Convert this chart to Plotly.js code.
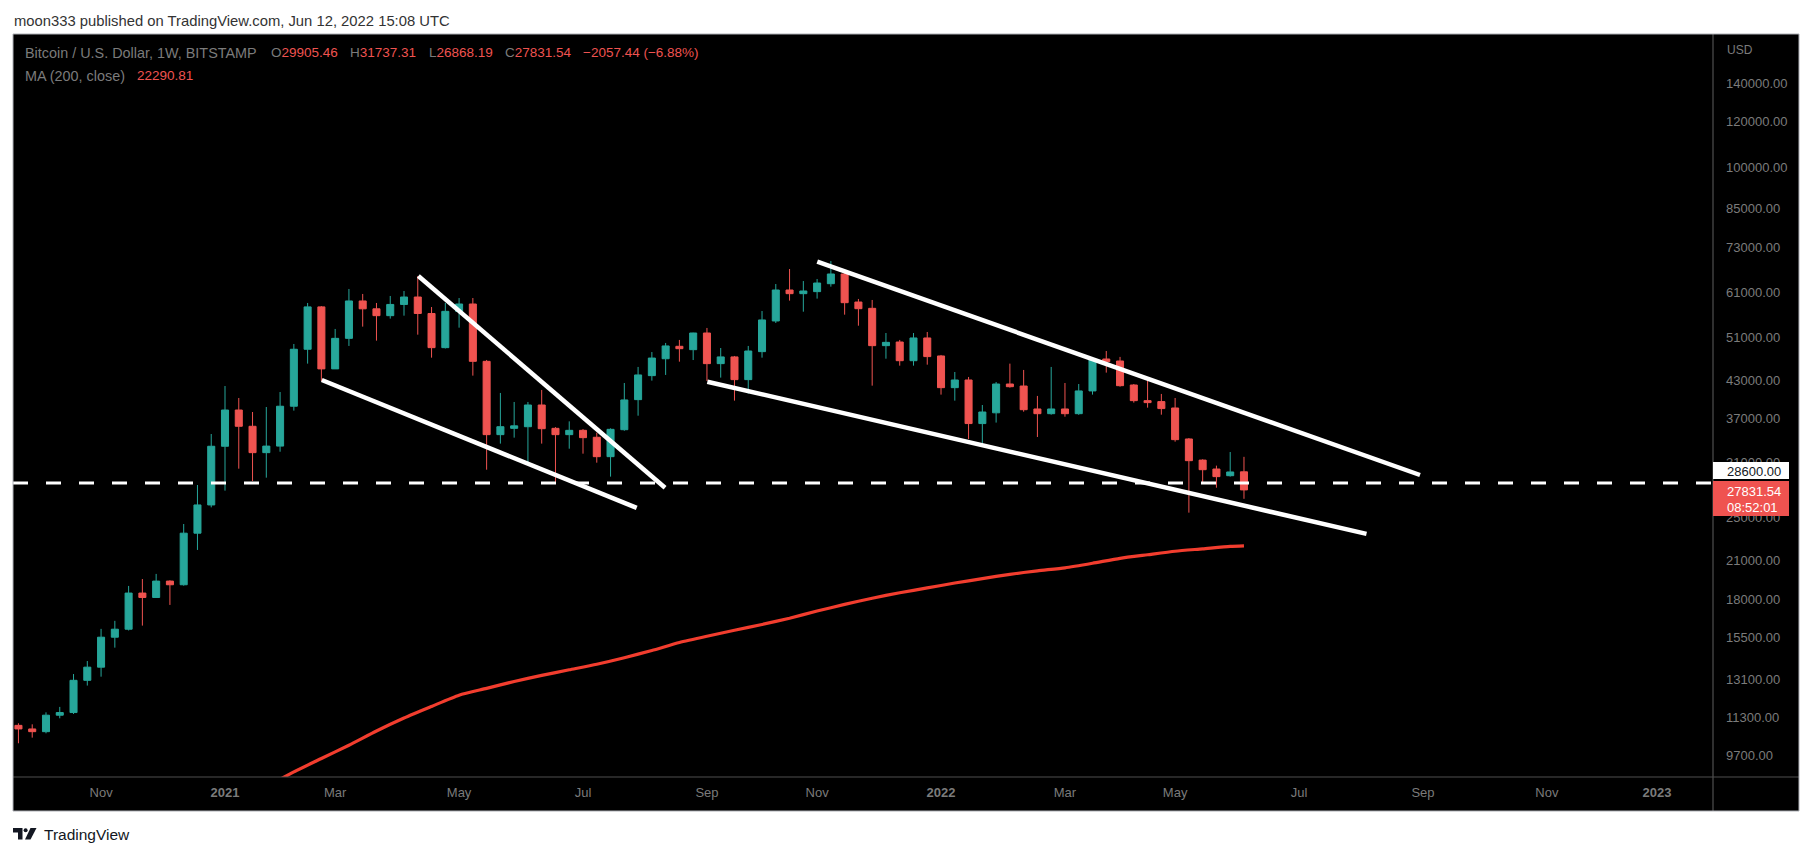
<!DOCTYPE html>
<html>
<head>
<meta charset="utf-8">
<script src="https://cdn.plot.ly/plotly-3.0.1.min.js"></script>
<style>
  html, body { margin: 0; padding: 0; background: #ffffff; }
  #chart { width: 1813px; height: 856px; }
</style>
</head>
<body>
<div id="chart"></div>
<script>
// ---------- DATA ----------
const weekDates = [
  '2020-09-21','2020-09-28','2020-10-05','2020-10-12','2020-10-19','2020-10-26',
  '2020-11-02','2020-11-09','2020-11-16','2020-11-23','2020-11-30','2020-12-07',
  '2020-12-14','2020-12-21','2020-12-28','2021-01-04','2021-01-11','2021-01-18',
  '2021-01-25','2021-02-01','2021-02-08','2021-02-15','2021-02-22','2021-03-01',
  '2021-03-08','2021-03-15','2021-03-22','2021-03-29','2021-04-05','2021-04-12',
  '2021-04-19','2021-04-26','2021-05-03','2021-05-10','2021-05-17','2021-05-24',
  '2021-05-31','2021-06-07','2021-06-14','2021-06-21','2021-06-28','2021-07-05',
  '2021-07-12','2021-07-19','2021-07-26','2021-08-02','2021-08-09','2021-08-16',
  '2021-08-23','2021-08-30','2021-09-06','2021-09-13','2021-09-20','2021-09-27',
  '2021-10-04','2021-10-11','2021-10-18','2021-10-25','2021-11-01','2021-11-08',
  '2021-11-15','2021-11-22','2021-11-29','2021-12-06','2021-12-13','2021-12-20',
  '2021-12-27','2022-01-03','2022-01-10','2022-01-17','2022-01-24','2022-01-31',
  '2022-02-07','2022-02-14','2022-02-21','2022-02-28','2022-03-07','2022-03-14',
  '2022-03-21','2022-03-28','2022-04-04','2022-04-11','2022-04-18','2022-04-25',
  '2022-05-02','2022-05-09','2022-05-16','2022-05-23','2022-05-30','2022-06-06'
];
const openPrices = [
  10930,10775,10660,11380,11500,13070,13770,15510,16010,18480,18160,19380,
  19100,23440,26220,33100,38220,35830,32270,33120,38800,48650,57560,45000,
  50800,58930,57120,55590,58120,59860,56070,48960,56550,58220,46370,34660,
  35540,35770,38990,35540,34660,35260,34300,31760,35350,39830,43810,46850,
  49220,48570,51890,45950,47190,43120,48190,54430,61550,60660,61150,63110,
  65590,58680,57230,49350,50070,46490,50880,47370,41770,43060,36220,37800,
  42380,42040,38380,37670,38380,37670,41230,46800,46430,42210,39670,39520,
  38530,34070,31330,30240,29450,29905.46
];
const highPrices = [
  11020,10975,11510,11760,13400,14110,16030,16550,19010,19540,19940,19440,
  24310,28380,34750,42040,40090,37920,38680,41050,49680,58460,57750,52730,
  61800,60590,58460,60110,61310,65070,57530,58460,59620,59620,46620,40900,
  39460,39460,41390,35710,36540,35430,34920,35540,42550,45350,48110,49880,
  50480,51950,52940,48890,47370,49290,56620,63030,66900,63780,64300,69070,
  66380,59400,59160,51890,50480,51890,52100,47560,44450,43580,38990,42720,
  45950,44810,40420,45350,42550,42380,46990,48310,47190,42380,43060,40740,
  40090,34200,31430,30650,32350,31737.31
];
const lowPrices = [
  10180,10410,10590,11240,11435,12800,13260,14880,15930,16240,18130,17630,
  19030,21930,25970,27750,30280,28830,29220,32390,38130,45950,42900,44990,
  49290,53220,50340,54940,55590,51550,47050,48800,53000,43810,30160,33450,
  34250,31050,33450,28690,32780,32140,31010,29340,35200,37370,42950,43930,
  46310,46610,42900,43470,39670,40790,47050,54000,59010,56470,59480,62370,
  55810,53420,42100,46860,45580,45580,45760,40630,39670,34070,33050,36360,
  41770,37970,34340,37520,37220,37500,40630,44340,41930,39360,38580,37520,
  33710,25430,28640,28080,29340,26868.19
];
const closePrices = [
  10775,10660,11380,11500,13070,13770,15510,16010,18480,18160,19380,19100,
  23440,26220,33100,38220,35830,32270,33120,38800,48650,57560,45000,50800,
  58930,57120,55590,58120,59860,56070,48960,56550,58220,46370,34660,35770,
  35890,38990,35490,34660,35260,34250,31760,35400,39780,43930,46980,49290,
  48760,51890,45950,47190,43120,48310,54650,61550,60660,61310,63280,65590,
  58530,57150,49350,50000,46490,50880,47250,41770,43060,36220,37920,42380,
  41930,38270,37670,38380,37670,41230,46800,46310,42100,39670,39360,38440,
  33980,31260,30160,29340,29888.98,27831.54
];

// 200-week moving average, sampled along the drawn red curve
const maDates = [
  '2021-01-25','2021-02-08','2021-02-22','2021-03-08','2021-03-22','2021-04-05',
  '2021-04-19','2021-05-03','2021-05-17','2021-05-31','2021-06-14','2021-06-28',
  '2021-07-12','2021-07-26','2021-08-09','2021-08-23','2021-09-06','2021-09-20',
  '2021-10-04','2021-10-18','2021-11-01','2021-11-15','2021-11-29','2021-12-13',
  '2021-12-27','2022-01-10','2022-01-24','2022-02-07','2022-02-21','2022-03-07',
  '2022-03-21','2022-04-04','2022-04-18','2022-05-02','2022-05-16','2022-05-30',
  '2022-06-06'
];
const maValues = [
  8565,9085,9582,10102,10687,11253,11784,12322,12659,13010,13329,13628,
  13934,14298,14713,15187,15572,15941,16312,16725,17206,17665,18105,18505,
  18861,19232,19571,19908,20187,20428,20800,21213,21518,21819,22029,22248,
  22290.81
];

// Hand-drawn trend lines (start / end)
const trendStartDates = ['2021-04-12 07:00','2021-02-22 05:00','2021-11-01 02:00','2021-09-06 05:00'];
const trendEndDates   = ['2021-08-15 17:00','2021-08-01 07:00','2022-09-03 12:00','2022-08-07 07:00'];
const trendStartPrices = [65070, 43060, 68870, 42770];
const trendEndPrices   = [28080, 25910, 29530, 23370];

// Horizontal dashed level
const levelPrice = 28600;

// Axis ticks
const priceTicks = [9700,11300,13100,15500,18000,21000,25000,31000,37000,43000,51000,61000,73000,85000,100000,120000,140000];
const timeTickDates = ['2020-11-02','2021-01-04','2021-03-01','2021-05-03','2021-07-05','2021-09-06','2021-11-01',
                       '2022-01-03','2022-03-07','2022-05-02','2022-07-04','2022-09-05','2022-11-07','2023-01-02'];
const timeTickLabels = ['Nov','2021','Mar','May','Jul','Sep','Nov','2022','Mar','May','Jul','Sep','Nov','2023'];

const headerText = 'moon333 published on TradingView.com, Jun 12, 2022 15:08 UTC';
const symbolText = 'Bitcoin / U.S. Dollar, 1W, BITSTAMP';
const maLabel = 'MA (200, close)';
const countdownText = '08:52:01';

// ---------- LAYOUT HELPERS ----------
const W = 1813, H = 856;
const PL = 13, PR = 1713, PT = 34, PB = 777;
const X_START = '2020-09-18 05:30', X_END = '2023-01-30 10:30';
const px = x => (x - PL) / (PR - PL);
const py = y => (PB - y) / (PB - PT);

const UP = '#26a69a', DOWN = '#ef5350';
const GRAYTXT = '#7b7b7b';
const FONT = 'Liberation Sans, Arial, sans-serif';

const n = closePrices.length;
const lastO = openPrices[n-1], lastH = highPrices[n-1], lastL = lowPrices[n-1], lastC = closePrices[n-1];
const chg = lastC - closePrices[n-2];
const chgPct = chg / closePrices[n-2] * 100;
const fmt = v => v.toFixed(2);
const neg = s => s.replace('-', '\u2212');

// ---------- TRACES ----------
const traces = [];

traces.push({
  type: 'candlestick',
  x: weekDates, open: openPrices, high: highPrices, low: lowPrices, close: closePrices,
  increasing: { line: { color: UP, width: 1 }, fillcolor: UP },
  decreasing: { line: { color: DOWN, width: 1 }, fillcolor: DOWN },
  whiskerwidth: 0,
  hoverinfo: 'skip',
  showlegend: false
});

traces.push({
  type: 'scatter', mode: 'lines',
  x: maDates, y: maValues,
  line: { color: '#f23d2e', width: 3.2, shape: 'spline', smoothing: 0.6 },
  hoverinfo: 'skip', showlegend: false
});

traces.push({
  type: 'scatter', mode: 'lines',
  x: [X_START, X_END], y: [levelPrice, levelPrice],
  line: { color: '#ffffff', width: 3, dash: '15px,18px' },
  hoverinfo: 'skip', showlegend: false
});

for (let i = 0; i < trendStartDates.length; i++) {
  traces.push({
    type: 'scatter', mode: 'lines',
    x: [trendStartDates[i], trendEndDates[i]],
    y: [trendStartPrices[i], trendEndPrices[i]],
    line: { color: '#ffffff', width: 4.5 },
    hoverinfo: 'skip', showlegend: false
  });
}

// ---------- SHAPES ----------
const fx = px(1799), fy = py(811);
const shapes = [
  { type: 'rect', xref: 'paper', yref: 'paper', x0: 0, x1: fx, y0: fy, y1: 1,
    fillcolor: '#000000', line: { width: 0 }, layer: 'below' },
  // separators
  { type: 'line', xref: 'paper', yref: 'paper', x0: 1, x1: 1, y0: fy, y1: 1,
    line: { color: '#5e5e5e', width: 1 }, layer: 'above' },
  { type: 'line', xref: 'paper', yref: 'paper', x0: 0, x1: fx, y0: 0, y1: 0,
    line: { color: '#4e4e4e', width: 1 }, layer: 'above' },
  // outer border
  { type: 'rect', xref: 'paper', yref: 'paper', x0: 0, x1: fx, y0: fy, y1: 1,
    fillcolor: 'rgba(0,0,0,0)', line: { color: '#aeb0b6', width: 1 }, layer: 'above' },
  // price label boxes
  { type: 'rect', xref: 'paper', yref: 'paper', x0: px(1713), x1: px(1789), y0: py(479), y1: py(462),
    fillcolor: '#ffffff', line: { width: 0 }, layer: 'above' },
  { type: 'rect', xref: 'paper', yref: 'paper', x0: px(1713), x1: px(1789), y0: py(516), y1: py(481),
    fillcolor: DOWN, line: { width: 0 }, layer: 'above' }
];

// TradingView logo
function pathOf(pts) {
  return 'M' + pts.map(p => px(p[0]) + ',' + py(p[1])).join(' L') + ' Z';
}
shapes.push({ type: 'path', xref: 'paper', yref: 'paper',
  path: pathOf([[13,828],[22.5,828],[22.5,839.5],[18,839.5],[18,832.5],[13,832.5]]),
  fillcolor: '#131722', line: { width: 0 } });
shapes.push({ type: 'circle', xref: 'paper', yref: 'paper',
  x0: px(23.6), x1: px(27.6), y0: py(832.3), y1: py(828.3),
  fillcolor: '#131722', line: { width: 0 } });
shapes.push({ type: 'path', xref: 'paper', yref: 'paper',
  path: pathOf([[30.5,828],[36.5,828],[30.5,839.5],[25,839.5]]),
  fillcolor: '#131722', line: { width: 0 } });

// ---------- ANNOTATIONS ----------
function note(text, x, y, size, color, extra) {
  return Object.assign({
    text: text, xref: 'paper', yref: 'paper', x: px(x), y: py(y),
    xanchor: 'left', yanchor: 'middle', showarrow: false,
    font: { family: FONT, size: size, color: color }
  }, extra || {});
}
const red = s => '<span style="color:' + DOWN + '">' + s + '</span>';
const annotations = [
  note(headerText, 12, 21, 14.8, '#333333'),
  note(symbolText, 23, 53, 14.4, GRAYTXT),
  note('O' + red(fmt(lastO)), 269, 53, 13.5, GRAYTXT),
  note('H' + red(fmt(lastH)), 348, 53, 13.5, GRAYTXT),
  note('L' + red(fmt(lastL)), 427, 53, 13.5, GRAYTXT),
  note('C' + red(fmt(lastC)), 503, 53, 13.5, GRAYTXT),
  note(red(neg(fmt(chg)) + ' (' + neg(fmt(chgPct)) + '%)'), 581, 53, 13.5, GRAYTXT),
  note(maLabel, 23, 76, 14.4, GRAYTXT),
  note(red(fmt(maValues[maValues.length-1])), 135, 76, 13.5, GRAYTXT),
  note('USD', 1725, 50, 12, GRAYTXT),
  note(fmt(levelPrice), 1725, 471, 13, '#131722'),
  note(fmt(lastC), 1725, 491, 13, '#ffffff'),
  note(countdownText, 1725, 507, 13, '#ffffff'),
  note('TradingView', 42, 834, 15.5, '#131722')
];

// ---------- LAYOUT ----------
const layout = {
  width: W, height: H,
  margin: { l: PL, r: W - PR, t: PT, b: H - PB, pad: 0 },
  paper_bgcolor: '#ffffff',
  plot_bgcolor: '#000000',
  showlegend: false,
  hovermode: false,
  boxgap: 0.27,
  xaxis: {
    type: 'date',
    range: [X_START, X_END],
    rangeslider: { visible: false },
    showgrid: false, zeroline: false, showline: false,
    ticks: '', ticklabelstandoff: 6,
    tickmode: 'array', tickvals: timeTickDates,
    ticktext: timeTickLabels.map(t => /^\d{4}$/.test(t) ? '<b>' + t + '</b>' : t),
    tickfont: { family: FONT, size: 13, color: GRAYTXT },
    fixedrange: true
  },
  yaxis: {
    type: 'log',
    side: 'right',
    range: [3.94958, 5.23061],
    showgrid: false, zeroline: false, showline: false,
    ticks: '', ticklabelstandoff: 12,
    tickmode: 'array', tickvals: priceTicks,
    ticktext: priceTicks.map(v => v.toFixed(2)),
    tickfont: { family: FONT, size: 13, color: GRAYTXT },
    fixedrange: true
  },
  shapes: shapes,
  annotations: annotations
};

Plotly.newPlot('chart', traces, layout, { staticPlot: true, displayModeBar: false });
</script>
</body>
</html>
